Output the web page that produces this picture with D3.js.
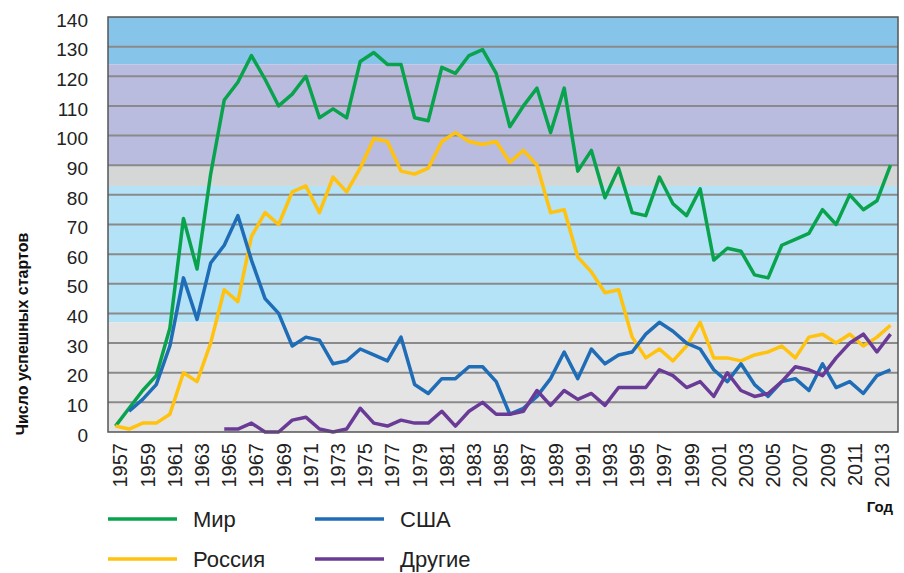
<!DOCTYPE html>
<html>
<head>
<meta charset="utf-8">
<script src="https://cdn.jsdelivr.net/npm/d3@7"></script>
<style>
	body { margin: 0; background: #fff; }
	text { font-family: 'Liberation Sans', Arial, sans-serif; }
</style>
</head>
<body>
<svg width="904" height="573"></svg>
<script>
// years on the x axis
var years = d3.range(1957, 2015);

// successful launches per year
var world = [2, 8, 14, 19, 35, 72, 55, 87, 112, 118, 127, 119, 110, 114, 120, 106, 109, 106, 125, 128,
	124, 124, 106, 105, 123, 121, 127, 129, 121, 103, 110, 116, 101, 116, 88, 95, 79, 89, 74, 73,
	86, 77, 73, 82, 58, 62, 61, 53, 52, 63, 65, 67, 75, 70, 80, 75, 78, 90];
var russia = [2, 1, 3, 3, 6, 20, 17, 30, 48, 44, 66, 74, 70, 81, 83, 74, 86, 81, 89, 99,
	98, 88, 87, 89, 98, 101, 98, 97, 98, 91, 95, 90, 74, 75, 59, 54, 47, 48, 32, 25,
	28, 24, 29, 37, 25, 25, 24, 26, 27, 29, 25, 32, 33, 30, 33, 29, 32, 36];
var usa = [null, 7, 11, 16, 29, 52, 38, 57, 63, 73, 58, 45, 40, 29, 32, 31, 23, 24, 28, 26,
	24, 32, 16, 13, 18, 18, 22, 22, 17, 6, 8, 12, 18, 27, 18, 28, 23, 26, 27, 33,
	37, 34, 30, 28, 21, 17, 23, 16, 12, 17, 18, 14, 23, 15, 17, 13, 19, 21];
var others = [null, null, null, null, null, null, null, null, 1, 1, 3, 0, 0, 4, 5, 1, 0, 1, 8, 3,
	2, 4, 3, 3, 7, 2, 7, 10, 6, 6, 7, 14, 9, 14, 11, 13, 9, 15, 15, 15,
	21, 19, 15, 17, 12, 20, 14, 12, 13, 17, 22, 21, 19, 25, 30, 33, 27, 33];

var seriesNames = ['Мир', 'Россия', 'США', 'Другие'];
var seriesColors = ['#0aa34d', '#ffc20e', '#1f6db6', '#6a3b96'];

// coloured background bands (value ranges)
var bandLow = [124, 90, 83, 37, 0];
var bandHigh = [140, 124, 90, 83, 37];
var bandColors = ['#86c4ea', '#b9bcde', '#d5d6d6', '#b4e2f6', '#e4e4e4'];

var yTicks = d3.range(0, 141, 10);

var svg = d3.select('svg'),
	width = +svg.attr('width'),
	height = +svg.attr('height');

// plot box (window.top is taken, so prefix these)
var pLeft = 108, pRight = 898, pTop = 17, pBottom = 432;

var x = d3.scalePoint()
	.domain(years)
	.range([pLeft, pRight])
	.padding(0.55);

var y = d3.scaleLinear()
	.domain([0, 140])
	.range([pBottom, pTop]);

// background bands
svg.selectAll('rect.band')
	.data(bandLow)
	.enter()
	.append('rect')
	.attr('class', 'band')
	.attr('x', pLeft)
	.attr('width', pRight - pLeft)
	.attr('y', function(d, i) { return y(bandHigh[i]); })
	.attr('height', function(d, i) { return y(d) - y(bandHigh[i]); })
	.attr('fill', function(d, i) { return bandColors[i]; });

// grid lines
svg.selectAll('line.grid')
	.data(yTicks.slice(1, -1))
	.enter()
	.append('line')
	.attr('x1', pLeft)
	.attr('x2', pRight)
	.attr('y1', function(d) { return y(d); })
	.attr('y2', function(d) { return y(d); })
	.attr('stroke', '#8a8a8a')
	.attr('stroke-width', 2);

// y tick labels
svg.selectAll('text.ytick')
	.data(yTicks)
	.enter()
	.append('text')
	.attr('x', 88)
	.attr('y', function(d) { return y(d) + 3; })
	.attr('dy', '0.35em')
	.attr('text-anchor', 'end')
	.attr('font-size', 19)
	.attr('fill', '#222')
	.text(function(d) { return d; });

// x tick labels (every second year, rotated)
svg.selectAll('text.xtick')
	.data(years.filter(function(d) { return (d - 1957) % 2 === 0; }))
	.enter()
	.append('text')
	.attr('transform', function(d) { return 'translate(' + (x(d) + 5) + ',443) rotate(-90)'; })
	.attr('dy', '0.35em')
	.attr('text-anchor', 'end')
	.attr('font-size', 20)
	.attr('fill', '#222')
	.text(function(d) { return d; });

// lines
var line = d3.line()
	.defined(function(d) { return d[1] !== null; })
	.x(function(d) { return x(d[0]); })
	.y(function(d) { return y(d[1]); });

[world, russia, usa, others].forEach(function(values, i) {
	svg.append('path')
		.datum(years.map(function(yr, k) { return [yr, values[k]]; }))
		.attr('d', line)
		.attr('fill', 'none')
		.attr('stroke', seriesColors[i])
		.attr('stroke-width', 3.5)
		.attr('stroke-linejoin', 'round');
});

// plot frame
svg.append('rect')
	.attr('x', pLeft)
	.attr('y', pTop)
	.attr('width', pRight - pLeft)
	.attr('height', pBottom - pTop)
	.attr('fill', 'none')
	.attr('stroke', '#555')
	.attr('stroke-width', 1.5);

// axis titles
svg.append('text')
	.attr('transform', 'translate(22,334) rotate(-90)')
	.attr('dy', '0.35em')
	.attr('text-anchor', 'middle')
	.attr('font-size', 16)
	.attr('font-weight', 'bold')
	.attr('fill', '#111')
	.text('Число успешных стартов');

svg.append('text')
	.attr('x', 893)
	.attr('y', 512)
	.attr('text-anchor', 'end')
	.attr('font-size', 15)
	.attr('font-weight', 'bold')
	.attr('fill', '#111')
	.text('Год');

// legend, two columns
var legend = svg.selectAll('g.legend')
	.data(seriesNames)
	.enter()
	.append('g')
	.attr('transform', function(d, i) {
		var col = [0, 0, 1, 1][i], row = [0, 1, 0, 1][i];
		return 'translate(' + (108 + col * 207) + ',' + (519 + row * 40) + ')';
	});

legend.append('line')
	.attr('x1', 0)
	.attr('x2', 69)
	.attr('stroke', function(d, i) { return seriesColors[i]; })
	.attr('stroke-width', 3.5);

legend.append('text')
	.attr('x', 85)
	.attr('dy', '0.35em')
	.attr('font-size', 22)
	.attr('fill', '#222')
	.text(function(d) { return d; });
</script>
</body>
</html>
